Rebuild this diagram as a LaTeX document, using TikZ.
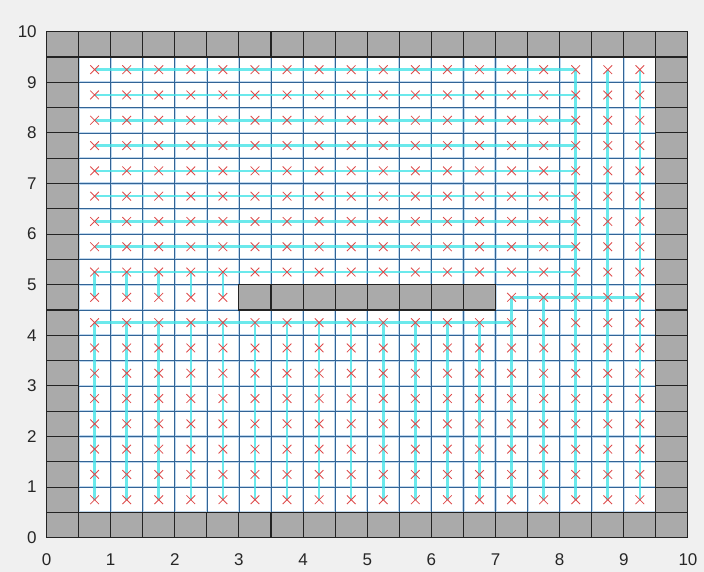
\documentclass[tikz,border=0pt]{standalone}
\usepackage{fontspec}
\setmainfont{Liberation Sans}
\definecolor{bgcol}{RGB}{240,240,240}
\definecolor{gridblue}{RGB}{50,100,150}
\definecolor{gridhalo}{RGB}{190,215,238}
\definecolor{cellgrey}{RGB}{170,170,170}
\definecolor{celledge}{RGB}{35,35,35}
\definecolor{pathcyan}{RGB}{70,228,232}
\definecolor{markred}{RGB}{222,75,75}
\definecolor{ticktext}{RGB}{38,38,38}
\tikzset{
  gridline/.style={gridblue, line width=0.55pt},
  gridunder/.style={gridhalo, line width=1.8pt},
  greycell/.style={fill=cellgrey, draw=celledge, line width=0.9pt},
  cpath/.style={pathcyan, line width=2.2pt, opacity=0.8},
  redx/.style={markred, line width=0.7pt},
  ticklabel/.style={text=ticktext, font=\fontsize{14.5}{16}\selectfont, inner sep=0pt}
}
\begin{document}
\begin{tikzpicture}[x=1.9245cm,y=1.518cm]
\useasboundingbox[fill=bgcol] (-0.725,-0.678) rectangle (10.25,10.627);
\fill[white] (0,0) rectangle (10,10);
% grid
\foreach \i in {1,...,19} {
  \draw[gridunder] (\i/2,0.5) -- (\i/2,9.5);
  \draw[gridunder] (0.5,\i/2) -- (9.5,\i/2);
}
\foreach \i in {1,...,19} {
  \draw[gridline] (\i/2,0.5) -- (\i/2,9.5);
  \draw[gridline] (0.5,\i/2) -- (9.5,\i/2);
}
% coverage path
\foreach \i in {0,...,12} { \draw[cpath] (0.75+\i/2,0.75) -- (0.75+\i/2,4.25); }
\foreach \i in {13,14} { \draw[cpath] (0.75+\i/2,0.75) -- (0.75+\i/2,4.75); }
\foreach \i in {15,16,17} { \draw[cpath] (0.75+\i/2,0.75) -- (0.75+\i/2,9.25); }
\draw[cpath] (0.75,4.25) -- (7.25,4.25);
\draw[cpath] (7.25,4.75) -- (9.25,4.75);
\foreach \i in {0,...,4} { \draw[cpath] (0.75+\i/2,4.75) -- (0.75+\i/2,5.25); }
\foreach \j in {0,...,8} { \draw[cpath] (0.75,5.25+\j/2) -- (8.25,5.25+\j/2); }
% markers
\foreach \i in {0,...,17} {
  \foreach \j in {0,...,17} {
    \pgfmathtruncatemacro{\skip}{(\j==8 && \i>4 && \i<13) ? 1 : 0}
    \ifnum\skip=0
      \draw[redx] (0.75+\i/2,0.75+\j/2) ++(-0.13cm,-0.13cm) -- ++(0.26cm,0.26cm)
                  ++(0,-0.26cm) -- ++(-0.26cm,0.26cm);
    \fi
  }
}
% grey cells
\foreach \i in {0,...,19} {
  \draw[greycell] (\i/2,0) rectangle ++(0.5,0.5);
  \draw[greycell] (\i/2,9.5) rectangle ++(0.5,0.5);
  \draw[greycell] (0,\i/2) rectangle ++(0.5,0.5);
  \draw[greycell] (9.5,\i/2) rectangle ++(0.5,0.5);
}
\foreach \i in {6,...,13} { \draw[greycell] (\i/2,4.5) rectangle ++(0.5,0.5); }
% tick labels
\foreach \v in {0,...,10} {
  \node[ticklabel] (xt\v) at (\v,-0.44) {\v};
  \node[ticklabel, anchor=east] (yt\v) at (-0.15,\v) {\v};
}
\end{tikzpicture}
\end{document}
